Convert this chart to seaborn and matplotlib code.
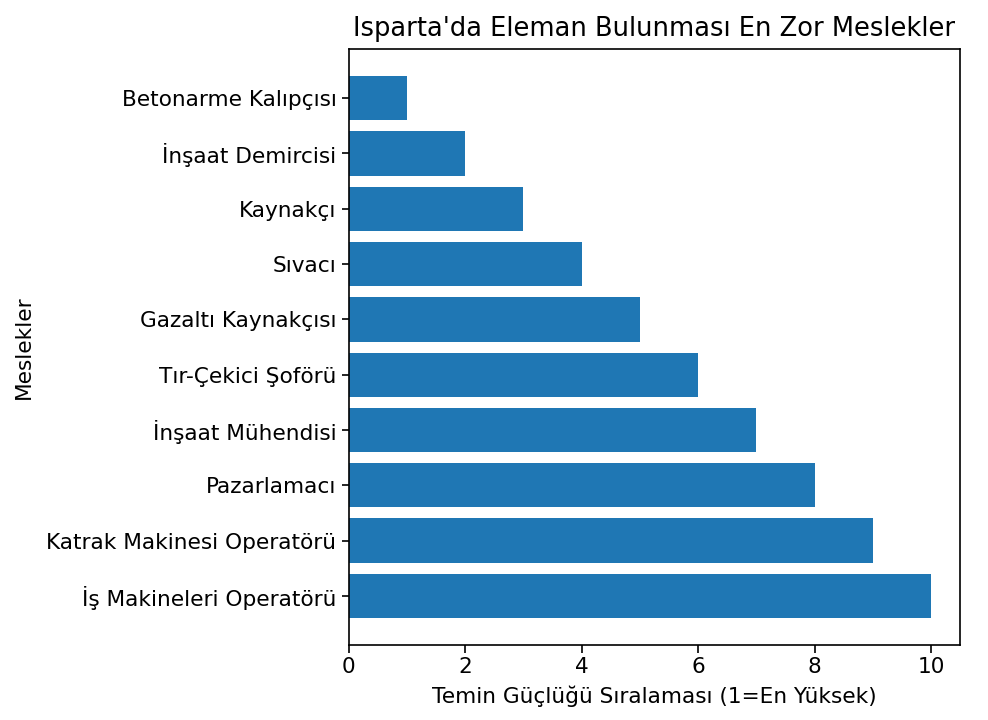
import pandas as pd
import matplotlib
matplotlib.use("Agg")
import matplotlib.pyplot as plt
import seaborn as sns

meslekler = [
    'Betonarme Kalıpçısı',
    'İnşaat Demircisi',
    'Kaynakçı',
    'Sıvacı',
    'Gazaltı Kaynakçısı',
    'Tır-Çekici Şoförü',
    'İnşaat Mühendisi',
    'Pazarlamacı',
    'Katrak Makinesi Operatörü',
    'İş Makineleri Operatörü',
]
siralama = [1, 2, 3, 4, 5, 6, 7, 8, 9, 10]

df = pd.DataFrame({'Meslek': meslekler, 'Sira': siralama})

sns.set_style('ticks', {'axes.edgecolor': 'black', 'text.color': 'black',
                        'axes.labelcolor': 'black', 'xtick.color': 'black',
                        'ytick.color': 'black'})
plt.rcParams['font.family'] = ['DejaVu Sans']

fig = plt.figure(figsize=(9.88, 7.2), dpi=100)
ax = fig.add_axes([0.353, 0.104, 0.619, 0.828])
sns.barplot(data=df, x='Sira', y='Meslek', orient='h', color='#1f77b4',
            saturation=1, width=0.8, linewidth=0, ax=ax)

ax.set_xlim(0, 10.5)
ax.set_ylim(9.89, -0.89)
ax.set_xticks([0, 2, 4, 6, 8, 10])
ax.tick_params(axis='both', labelsize=15.6, length=5.4, width=1.2, colors='black')
ax.set_title("Isparta'da Eleman Bulunması En Zor Meslekler", fontsize=18.5, pad=9)
ax.set_xlabel('Temin Güçlüğü Sıralaması (1=En Yüksek)', fontsize=15.6, labelpad=6)
ax.set_ylabel('Meslekler', fontsize=15.6, labelpad=9)
for s in ax.spines.values():
    s.set_visible(True)
    s.set_linewidth(1.2)

fig.savefig('out.png', dpi=100)
